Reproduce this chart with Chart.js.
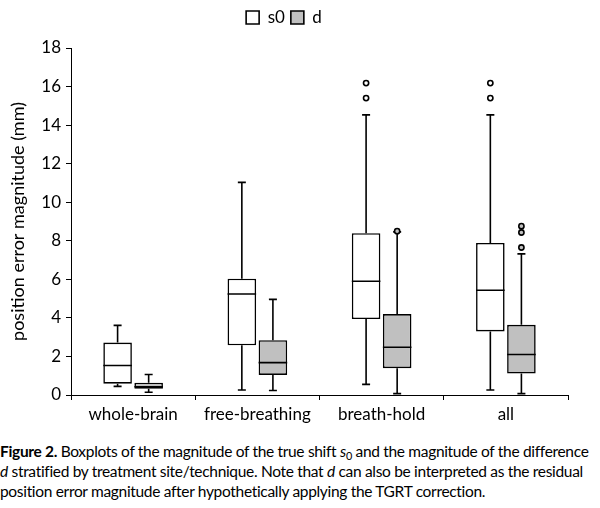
<!DOCTYPE html>
<html>
<head>
<meta charset="utf-8">
<script src="https://cdn.jsdelivr.net/npm/chart.js@4.4.1/dist/chart.umd.min.js"></script>
<style>
body { margin: 0; background: #fff; width: 600px; height: 508px; overflow: hidden; font-family: Lato, sans-serif; }
#wrap { position: absolute; left: 0; top: 0; width: 600px; height: 440px; }
#caption { position: absolute; left: 0; top: 441px; width: 600px; font-size: 15.5px; letter-spacing: -0.32px; line-height: 20px; color: #000; white-space: nowrap; }
sub { font-size: 70%; line-height: 0; vertical-align: -0.25em; }
</style>
</head>
<body>
<div id="wrap"><canvas id="boxChart"></canvas></div>
<div id="caption"><b>Figure 2.</b> Boxplots of the magnitude of the true shift <i>s</i><sub>0</sub> and the magnitude of the difference<br><i>d</i> stratified by treatment site/technique. Note that <i>d</i> can also be interpreted as the residual<br>position error magnitude after hypothetically applying the TGRT correction.</div>
<script>
const categories = ['whole-brain', 'free-breathing', 'breath-hold', 'all'];

// s0 (true shift) box stats
const s0Min    = [0.45, 0.26, 0.55, 0.26];
const s0Q1     = [0.59, 2.58, 3.94, 3.30];
const s0Median = [1.53, 5.24, 5.90, 5.43];
const s0Q3     = [2.72, 6.03, 8.39, 7.89];
const s0Max    = [3.61, 11.03, 14.53, 14.53];
const s0Outliers = [[], [], [15.40, 16.18], [15.40, 16.18]];

// d (difference) box stats
const dMin    = [0.14, 0.23, 0.07, 0.07];
const dQ1     = [0.33, 1.04, 1.39, 1.11];
const dMedian = [0.43, 1.68, 2.48, 2.10];
const dQ3     = [0.64, 2.84, 4.20, 3.64];
const dMax    = [1.06, 4.96, 8.46, 7.32];
const dOutliers = [[], [], [8.50], [7.65, 8.43, 8.76]];

const yTicks = [0, 2, 4, 6, 8, 10, 12, 14, 16, 18];

const FONT = 'Lato';

// medians, whiskers, caps and outliers on top of the floating bars
const whiskerPlugin = {
    id: 'whiskers',
    afterDatasetsDraw(chart) {
        const ctx = chart.ctx;
        const y = chart.scales.y;
        const stats = [
            { min: s0Min, q1: s0Q1, med: s0Median, q3: s0Q3, max: s0Max, out: s0Outliers, fill: '#ffffff' },
            { min: dMin, q1: dQ1, med: dMedian, q3: dQ3, max: dMax, out: dOutliers, fill: '#c0c0c0' }
        ];
        ctx.save();
        ctx.strokeStyle = '#000';
        ctx.lineWidth = 1.6;
        stats.forEach((s, i) => {
            chart.getDatasetMeta(i).data.forEach((bar, j) => {
                const x = bar.x;
                const half = bar.width / 2;
                const pMed = y.getPixelForValue(s.med[j]);
                const pQ1 = y.getPixelForValue(s.q1[j]);
                const pQ3 = y.getPixelForValue(s.q3[j]);
                const pMin = y.getPixelForValue(s.min[j]);
                const pMax = y.getPixelForValue(s.max[j]);
                ctx.beginPath();
                ctx.moveTo(x - half, pMed); ctx.lineTo(x + half, pMed);
                ctx.moveTo(x, pQ3); ctx.lineTo(x, pMax);
                ctx.moveTo(x - 4, pMax); ctx.lineTo(x + 4, pMax);
                ctx.moveTo(x, pQ1); ctx.lineTo(x, pMin);
                ctx.moveTo(x - 4, pMin); ctx.lineTo(x + 4, pMin);
                ctx.stroke();
                s.out[j].forEach(v => {
                    ctx.beginPath();
                    ctx.arc(x, y.getPixelForValue(v), 2.6, 0, Math.PI * 2);
                    ctx.fillStyle = s.fill;
                    ctx.fill();
                    ctx.stroke();
                });
            });
        });
        ctx.restore();
    }
};

const legendSpace = {
    id: 'legendSpace',
    beforeInit(chart) {
        const fit = chart.legend.fit;
        chart.legend.fit = function () {
            fit.bind(chart.legend)();
            this.height += 12;
        };
    }
};

new Chart(document.getElementById('boxChart'), {
    type: 'bar',
    data: {
        labels: categories,
        datasets: [{
            label: 's0',
            data: categories.map((c, i) => [s0Q1[i], s0Q3[i]]),
            backgroundColor: '#ffffff',
            borderColor: '#000',
            borderWidth: 1.6,
            borderSkipped: false
        }, {
            label: 'd',
            data: categories.map((c, i) => [dQ1[i], dQ3[i]]),
            backgroundColor: '#c0c0c0',
            borderColor: '#000',
            borderWidth: 1.6,
            borderSkipped: false
        }]
    },
    options: {
        animation: false,
        responsive: true,
        maintainAspectRatio: false,
        categoryPercentage: 0.5,
        barPercentage: 0.92,
        layout: { padding: { left: 0, right: 32, top: 3, bottom: 0 } },
        plugins: {
            tooltip: { enabled: false },
            legend: {
                position: 'top',
                labels: {
                    boxWidth: 13,
                    boxHeight: 13,
                    padding: 6,
                    color: '#000',
                    font: { family: FONT, size: 17 }
                }
            }
        },
        scales: {
            x: {
                offset: true,
                grid: { display: true, drawOnChartArea: false, offset: true, tickLength: 5, color: '#000' },
                border: { color: '#000' },
                ticks: { color: '#000', padding: 4, font: { family: FONT, size: 17 } },
                afterFit(s) { s.height = 45; }
            },
            y: {
                min: 0,
                max: 18,
                afterBuildTicks(s) { s.ticks = yTicks.map(v => ({ value: v })); },
                grid: { display: true, drawOnChartArea: false, tickLength: 5, color: '#000' },
                border: { color: '#000' },
                ticks: { color: '#000', padding: 5, font: { family: FONT, size: 17 } },
                title: {
                    display: true,
                    text: 'position error magnitude (mm)',
                    color: '#000',
                    padding: { top: 7, bottom: 0 },
                    font: { family: FONT, size: 18 }
                },
                afterFit(s) { s.width = 71; }
            }
        }
    },
    plugins: [whiskerPlugin, legendSpace]
});
</script>
</body>
</html>
